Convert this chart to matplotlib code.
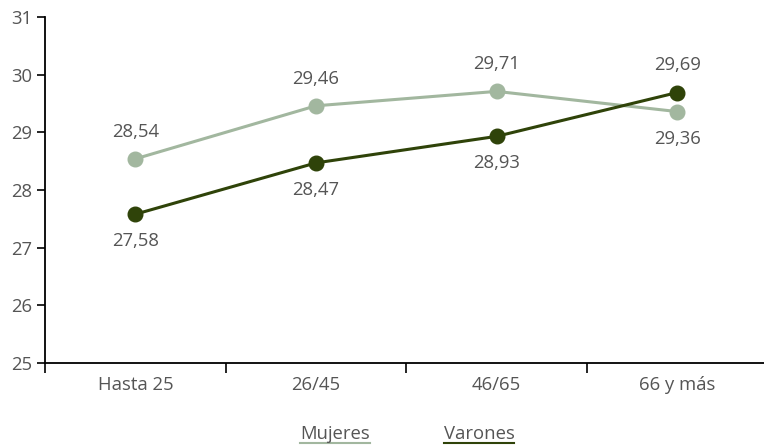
import matplotlib
matplotlib.use("Agg")
import matplotlib.pyplot as plt
from matplotlib.lines import Line2D

categorias = ["Hasta 25", "26/45", "46/65", "66 y más"]
mujeres = [28.54, 29.46, 29.71, 29.36]
varones = [27.58, 28.47, 28.93, 29.69]
series = ["Mujeres", "Varones"]

# label placement per point: +1 above, -1 below
pos_mujeres = [1, 1, 1, -1]
pos_varones = [-1, -1, -1, 1]

color_muj = "#a2b79f"
color_var = "#2f4309"
texto = "#555555"

plt.rcParams["font.family"] = ["Open Sans", "DejaVu Sans"]
FS = 13.3

W, H = 764, 445
fig = plt.figure(figsize=(W / 100, H / 100), dpi=100)
ax = fig.add_axes([45 / W, 82 / H, 722.5 / W, 346 / H])

x = list(range(len(categorias)))
for vals, col, pos in [(mujeres, color_muj, pos_mujeres), (varones, color_var, pos_varones)]:
    ax.plot(x, vals, color=col, lw=2.2, marker="o", ms=10.5, zorder=3, clip_on=False)
    for xi, v, p in zip(x, vals, pos):
        ax.annotate(f"{v:.2f}".replace(".", ","), (xi, v), xytext=(0, 19.5 * p),
                    textcoords="offset points", ha="center", va="center",
                    fontsize=FS, color=texto)

ax.set_xlim(-0.5, len(categorias) - 0.5)
ax.set_ylim(25, 31)
ax.set_yticks(range(25, 32))
ax.set_yticklabels([str(t) for t in range(25, 32)], fontsize=FS, color=texto)

ax.set_xticks([i - 0.5 for i in range(len(categorias) + 1)])
ax.set_xticklabels([])
ax.set_xticks(x, minor=True)
ax.set_xticklabels(categorias, minor=True, fontsize=FS, color=texto)
ax.tick_params(axis="x", which="minor", length=0, pad=9)
ax.tick_params(axis="x", which="major", length=7, width=1.2, color="black")
ax.tick_params(axis="y", length=6, width=1.2, color="black", pad=3)

for s in ["top", "right"]:
    ax.spines[s].set_visible(False)
for s in ["left", "bottom"]:
    ax.spines[s].set_linewidth(1.3)
    ax.spines[s].set_color("black")

# legend: names with coloured underline
legend_x = [335 / W, 479 / W]
for name, col, lx in zip(series, [color_muj, color_var], legend_x):
    fig.text(lx, (H - 434) / H, name, ha="center", va="center",
             fontsize=FS, color=texto)
    fig.add_artist(Line2D([lx - 35 / W, lx + 35 / W], [(H - 445 + 2.5) / H] * 2,
                          color=col, lw=1.5, transform=fig.transFigure))

fig.savefig("out.png", dpi=100)
